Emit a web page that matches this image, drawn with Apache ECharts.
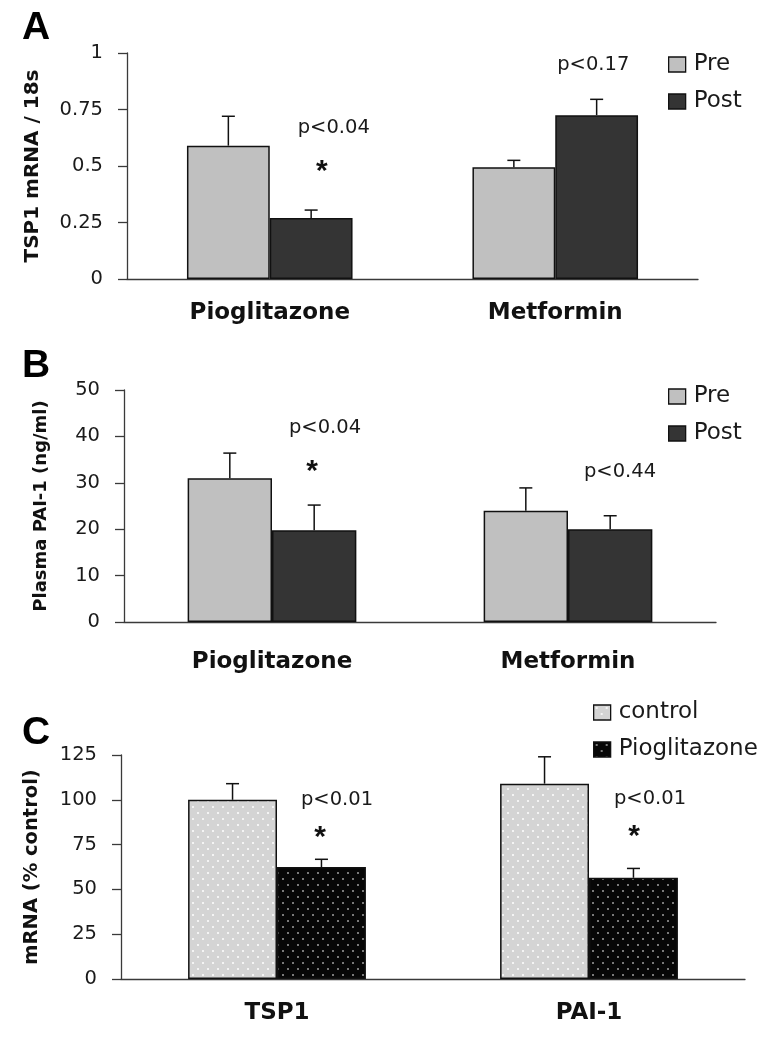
<!DOCTYPE html>
<html>
<head>
<meta charset="utf-8">
<script src="https://cdn.jsdelivr.net/npm/echarts@6/dist/echarts.min.js"></script>
<style>html,body{margin:0;padding:0;background:#fff}#c{width:775px;height:1050px}</style>
</head>
<body>
<div id="c"></div>
<script>
// ---------- data ----------
const catsA = ['Pioglitazone', 'Metformin'];
const preA = [0.59, 0.495];
const postA = [0.27, 0.725];
const preErrA = [0.13, 0.03];
const postErrA = [0.035, 0.07];
const ticksA = [0, 0.25, 0.5, 0.75, 1];

const catsB = ['Pioglitazone', 'Metformin'];
const preB = [31, 24];
const postB = [19.8, 20];
const preErrB = [5.4, 4.9];
const postErrB = [5.4, 2.9];
const ticksB = [0, 10, 20, 30, 40, 50];

const catsC = ['TSP1', 'PAI-1'];
const ctrlC = [100, 109];
const piogC = [62.5, 56.5];
const ctrlErrC = [9, 15];
const piogErrC = [4.3, 5.2];
const ticksC = [0, 25, 50, 75, 100, 125];

const seriesNamesAB = ['Pre', 'Post'];
const seriesNamesC = ['control', 'Pioglitazone'];

// annotations: [category index, y value, text]
const annotA = [[0, 0.668, 'p<0.04'], [0, 0.49, '*'], [1, 0.947, 'p<0.17']];
const annotB = [[0, 41.8, 'p<0.04'], [0, 33, '*'], [1, 32.3, 'p<0.44']];
const annotC = [[0, 99.9, 'p<0.01'], [0, 80.4, '*'], [1, 100.5, 'p<0.01'], [1, 81, '*']];
const annotDxA = [64, 52, 38];
const annotDxB = [53, 40, 52];
const annotDxC = [60, 43, 61, 45];

// ---------- patterns ----------
function makePattern(bg, dot) {
  const cv = document.createElement('canvas');
  cv.width = 10; cv.height = 12;
  const ctx = cv.getContext('2d');
  ctx.fillStyle = bg; ctx.fillRect(0, 0, 10, 12);
  ctx.fillStyle = dot;
  ctx.fillRect(2, 2, 2, 2);
  ctx.fillRect(7, 8, 2, 2);
  return { image: cv, repeat: 'repeat' };
}
const patCtrl = makePattern('#d4d4d4', '#f4f4f4');
const patPiog = makePattern('#070707', '#7a7a7a');

const FONT = 'DejaVu Sans';
const TXT = '#1a1a1a';
const AXC = '#3a3a3a';

const grids = [
  { left: 127, right: 77, top: 53, height: 226 },
  { left: 124, right: 59, top: 390, height: 232 },
  { left: 121, right: 30, top: 755, height: 224 }
];
const cats = [catsA, catsB, catsC];
const ticks = [ticksA, ticksB, ticksC];
const yNames = ['TSP1 mRNA / 18s', 'Plasma PAI-1 (ng/ml)', 'mRNA (% control)'];
const yNameSize = [20, 18, 19.5];
const yNameGap = [84, 74, 79];
const xMargin = [23, 29, 23];
const gapPct = ['42%', '43%', '43%'];

const xAxes = cats.map((c, i) => ({
  type: 'category', gridIndex: i, data: c,
  axisLine: { lineStyle: { color: AXC, width: 1.3 } },
  axisTick: { length: 9, lineStyle: { color: AXC, width: 1.3 } },
  axisLabel: { fontFamily: FONT, fontWeight: 'bold', fontSize: 23, color: '#111', margin: xMargin[i] }
}));
const yAxes = ticks.map((t, i) => ({
  type: 'value', gridIndex: i, min: t[0], max: t[t.length - 1], interval: t[1] - t[0],
  name: yNames[i], nameLocation: 'middle', nameRotate: 90, nameGap: yNameGap[i],
  nameTextStyle: { fontFamily: FONT, fontWeight: 'bold', fontSize: yNameSize[i], color: '#111' },
  axisLine: { show: true, lineStyle: { color: AXC, width: 1.3 } },
  axisTick: { show: true, length: 9, lineStyle: { color: AXC, width: 1.3 } },
  splitLine: { show: false },
  axisLabel: { fontFamily: FONT, fontSize: 19.5, color: TXT, margin: 24 }
}));

function barSeries(name, data, idx, color) {
  return {
    type: 'bar', name: name, data: data, xAxisIndex: idx, yAxisIndex: idx,
    barGap: '0%', barCategoryGap: gapPct[idx],
    itemStyle: { color: color, borderColor: '#111', borderWidth: 1.5 },
    emphasis: { disabled: true }, z: 2
  };
}

function errSeries(idx, vals0, errs0, vals1, errs1) {
  const data = [];
  vals0.forEach((v, k) => data.push([k, v, v + errs0[k], 0]));
  vals1.forEach((v, k) => data.push([k, v, v + errs1[k], 1]));
  const gp = parseFloat(gapPct[idx]) / 100;
  return {
    type: 'custom', xAxisIndex: idx, yAxisIndex: idx, z: 5, silent: true,
    data: data, encode: { x: 0, y: [1, 2] },
    renderItem: function (params, api) {
      const band = api.size([1, 0])[0];
      const bw = band * (1 - gp) / 2;
      const side = api.value(3) === 0 ? -1 : 1;
      const base = api.coord([api.value(0), api.value(1)]);
      const top = api.coord([api.value(0), api.value(2)]);
      const x = base[0] + side * bw / 2;
      const st = { stroke: '#111', lineWidth: 1.5 };
      return {
        type: 'group', children: [
          { type: 'line', shape: { x1: x, y1: base[1], x2: x, y2: top[1] }, style: st },
          { type: 'line', shape: { x1: x - 6.5, y1: top[1], x2: x + 6.5, y2: top[1] }, style: st }
        ]
      };
    }
  };
}

function annotSeries(idx, annots, dxs) {
  return {
    type: 'custom', xAxisIndex: idx, yAxisIndex: idx, z: 6, silent: true,
    data: annots.map(a => [a[0], a[1]]), encode: { x: 0, y: 1 },
    renderItem: function (params, api) {
      const p = api.coord([api.value(0), api.value(1)]);
      const t = annots[params.dataIndex][2];
      const star = t === '*';
      return {
        type: 'text', x: p[0] + dxs[params.dataIndex], y: p[1] + (star ? 3 : 0),
        style: {
          text: t, align: 'center', verticalAlign: 'middle',
          font: star ? 'bold 30px "Liberation Sans"' : '19.5px "DejaVu Sans"',
          fill: star ? '#111' : TXT
        }
      };
    }
  };
}

function legend(idx, names, left, top) {
  return {
    data: names.map(n => ({ name: n })),
    orient: 'vertical', left: left, top: top, icon: 'rect', padding: 0,
    itemWidth: 17, itemHeight: 15, itemGap: 14, selectedMode: false,
    itemStyle: { borderColor: '#111', borderWidth: 1.3 },
    textStyle: { fontFamily: FONT, fontSize: 23, lineHeight: 22, color: TXT, padding: [0, 0, 0, 3] }
  };
}

const letters = [['A', 22, 15], ['B', 22, 353], ['C', 22, 720]].map(l => ({
  type: 'text', left: l[1], top: l[2] - 6,
  style: { text: l[0], font: 'bold 39px "Liberation Sans"', fill: '#000' }
}));

const option = {
  animation: false,
  backgroundColor: '#fff',
  grid: grids,
  xAxis: xAxes,
  yAxis: yAxes,
  legend: [
    legend(0, seriesNamesAB, 668, 53),
    legend(1, seriesNamesAB, 668, 385),
    legend(2, seriesNamesC, 593, 701)
  ],
  graphic: letters,
  series: [
    barSeries('Pre', preA, 0, '#c0c0c0'),
    barSeries('Post', postA, 0, '#343434'),
    errSeries(0, preA, preErrA, postA, postErrA),
    annotSeries(0, annotA, annotDxA),
    barSeries('Pre', preB, 1, '#c0c0c0'),
    barSeries('Post', postB, 1, '#343434'),
    errSeries(1, preB, preErrB, postB, postErrB),
    annotSeries(1, annotB, annotDxB),
    barSeries('control', ctrlC, 2, patCtrl),
    barSeries('Pioglitazone', piogC, 2, patPiog),
    errSeries(2, ctrlC, ctrlErrC, piogC, piogErrC),
    annotSeries(2, annotC, annotDxC)
  ]
};
const chart = echarts.init(document.getElementById('c'), null, { renderer: 'canvas' });
chart.setOption(option);
</script>
</body>
</html>
